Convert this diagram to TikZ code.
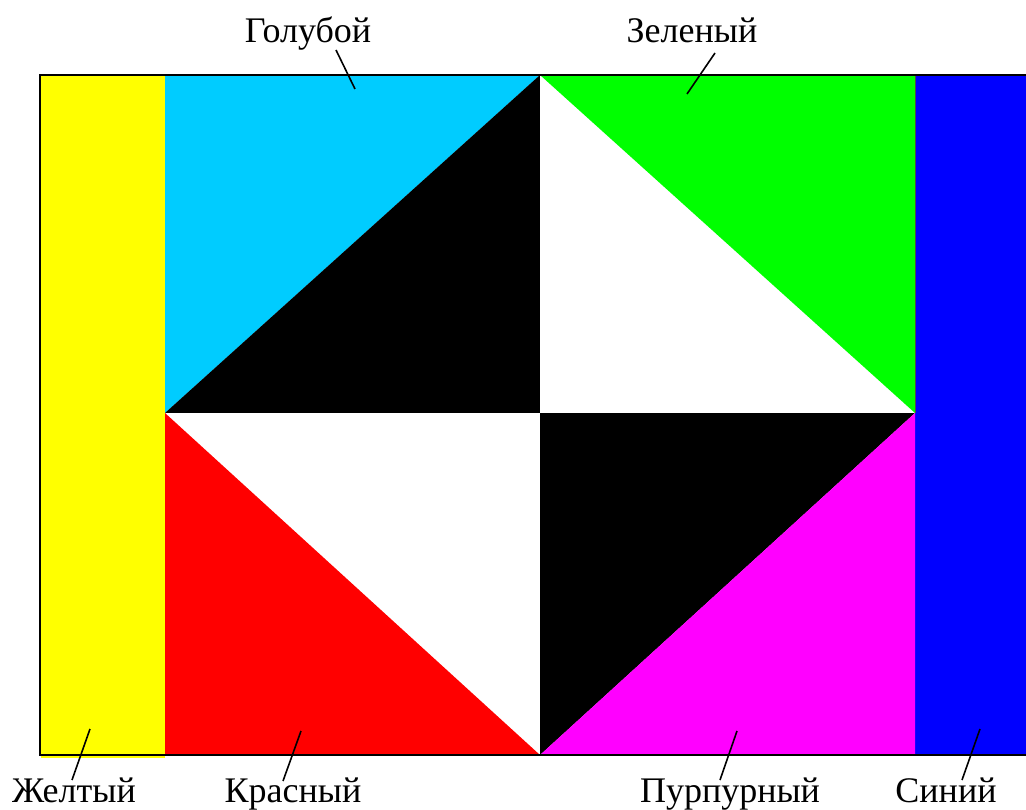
\documentclass[tikz,border=0pt]{standalone}
\usepackage{fontspec}
\setmainfont{Liberation Serif}
\definecolor{cyanF}{HTML}{00CCFF}
\definecolor{greenF}{HTML}{00FF00}
\definecolor{blueF}{HTML}{0000FF}
\definecolor{magF}{HTML}{FF00FF}
\definecolor{yelF}{HTML}{FFFF00}
\definecolor{redF}{HTML}{FF0000}
\begin{document}
\begin{tikzpicture}[x=1pt,y=-1pt,
  lbl/.style={font=\fontsize{36}{40}\selectfont, inner sep=0pt, anchor=base},
  leader/.style={draw=black, line width=1.6pt}]
\useasboundingbox (0,0) rectangle (1026,810);
\clip (0,0) rectangle (1026,810);
% colour regions
\fill[yelF] (41,75) rectangle (165,758);
\fill[blueF] (915,75) rectangle (1040,755);
\fill[cyanF] (165,75) -- (540,75) -- (165,413) -- cycle;
\fill[black] (540,75) -- (165,413) -- (540,413) -- cycle;
\fill[white] (540,75) -- (540,413) -- (915,413) -- cycle;
\fill[greenF] (540,75) -- (915,75) -- (915,413) -- cycle;
\fill[white] (165,413) -- (540,413) -- (540,755) -- cycle;
\fill[redF] (165,413) -- (165,755) -- (540,755) -- cycle;
\fill[black] (540,413) -- (915,413) -- (540,755) -- cycle;
\fill[magF] (915,413) -- (915,755) -- (540,755) -- cycle;
\draw[line width=0.8pt, black!70] (915,75) -- (915,413);
% frame
\draw[line width=2.4pt] (1040,75) -- (40,75) -- (40,755) -- (1040,755);
% labels
\node[lbl] (gol) at (308,43) {Голубой};
\node[lbl] (zel) at (692,43) {Зеленый};
\node[lbl] (zhe) at (74,802) {Желтый};
\node[lbl] (kra) at (293,802) {Красный};
\node[lbl] (pur) at (730,802) {Пурпурный};
\node[lbl] (sin) at (946,802) {Синий};
% leader end points
\coordinate (golA) at (336,50);  \coordinate (golB) at (355,89);
\coordinate (zelA) at (715,53);  \coordinate (zelB) at (687,94);
\coordinate (zheA) at (90,729);  \coordinate (zheB) at (72,780);
\coordinate (kraA) at (301,731); \coordinate (kraB) at (283,781);
\coordinate (purA) at (737,731); \coordinate (purB) at (720,780);
\coordinate (sinA) at (980,729); \coordinate (sinB) at (962,780);
\draw[leader] (golA) -- (golB);
\draw[leader] (zelA) -- (zelB);
\draw[leader] (zheA) -- (zheB);
\draw[leader] (kraA) -- (kraB);
\draw[leader] (purA) -- (purB);
\draw[leader] (sinA) -- (sinB);
\end{tikzpicture}
\end{document}
